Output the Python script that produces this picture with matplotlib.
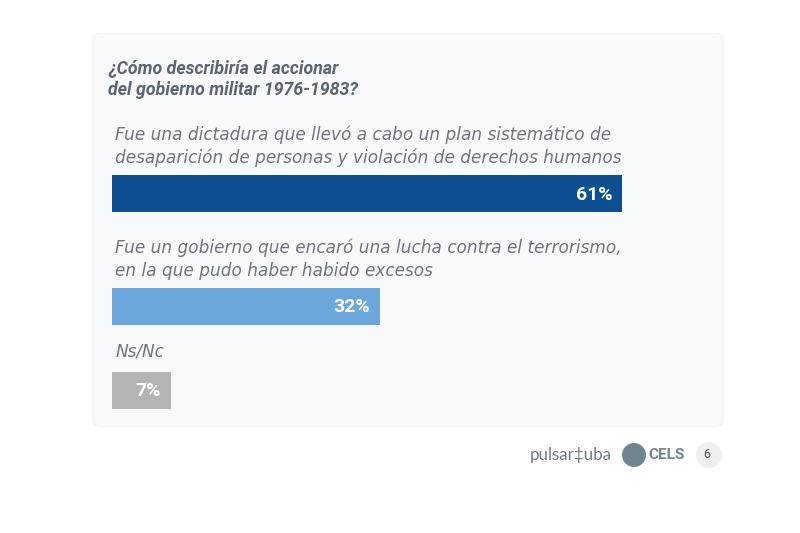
import matplotlib.pyplot as plt
from matplotlib.patches import FancyBboxPatch, Circle

# data
title = "¿Cómo describiría el accionar\ndel gobierno militar 1976-1983?"
labels = [
    "Fue una dictadura que llevó a cabo un plan sistemático de\ndesaparición de personas y violación de derechos humanos",
    "Fue un gobierno que encaró una lucha contra el terrorismo,\nen la que pudo haber habido excesos",
    "Ns/Nc",
]
values = [61, 32, 7]
colors = ["#0d4f91", "#6ca7dc", "#b4b4b4"]

W, H = 800, 533
fig = plt.figure(figsize=(8, 5.33), dpi=100)
fig.patch.set_facecolor("white")

def fx(px):
    return px / W

def fy(py):
    return 1 - py / H

# card background
card = FancyBboxPatch((fx(97), fy(424)), fx(622), (424 - 36) / H,
                      boxstyle="round,pad=0.005,rounding_size=0.012",
                      transform=fig.transFigure, facecolor="#f8f9fa",
                      edgecolor="#f1f2f3", linewidth=0.8, zorder=-5)
fig.patches.append(card)

# title, one line at a time on its baseline
for i, line in enumerate(title.split("\n")):
    fig.text(fx(108), fy(74 + i * 21), line, ha="left", va="baseline",
             fontsize=12.8, family="Roboto", style="italic", weight="bold",
             color="#5b6570")

# bar axes, y in pixel units
px_per_pct = 8.36
ax = fig.add_axes([fx(112), 0, fx(610), 1])
ax.set_xlim(0, 610 / px_per_pct)
ax.set_ylim(H, 0)
ax.axis("off")
ax.set_zorder(2)

bar_y = [193.5, 306.5, 390.5]
label_base = [140, 253, 357]
line_gap = 23
ax.barh(bar_y, values, height=37, color=colors, zorder=2)
for yb, yl, lab, v in zip(bar_y, label_base, labels, values):
    for i, line in enumerate(lab.split("\n")):
        ax.text(0.4, yl + i * line_gap, line, ha="left", va="baseline",
                fontsize=12.2, family="DejaVu Sans", style="italic",
                color="#6b7580")
    ax.text(v - 1.1, yb + 1, f"{v}%", ha="right", va="center",
            fontsize=14, family="Roboto", weight="bold", color="white")

# footer (circles in inches so they stay round)
def circ(xp, yp, rp, color):
    fig.patches.append(Circle((xp / 100, (H - yp) / 100), rp / 100,
                              transform=fig.dpi_scale_trans,
                              facecolor=color, edgecolor="none"))

fig.text(fx(530), fy(455), "pulsar\u2021uba", ha="left", va="center",
         fontsize=12.2, family="Lato", color="#6f7d86")
circ(634, 455, 12, "#6f8590")
fig.text(fx(648), fy(455), "CELS", ha="left", va="center", fontsize=11,
         family="Roboto", weight="bold", color="#6f8590")
circ(709, 455, 13, "#eeeff0")
fig.text(fx(707), fy(455), "6", ha="center", va="center", fontsize=9,
         family="Roboto", color="#555b60")

fig.savefig("out.png", dpi=100)
